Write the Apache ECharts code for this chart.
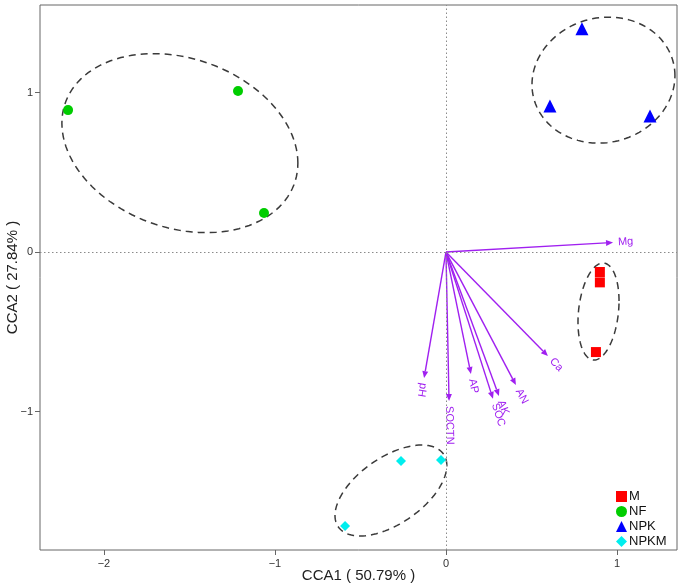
<!DOCTYPE html>
<html>
<head>
<meta charset="utf-8">
<script src="https://cdn.jsdelivr.net/npm/echarts@6/dist/echarts.min.js"></script>
<style>html,body{margin:0;padding:0;background:#fff}#c{width:685px;height:587px}</style>
</head>
<body>
<div id="c"></div>
<script>
// ---- data ----
const groupNames = ['M', 'NF', 'NPK', 'NPKM'];
const pointsM = [[0.90, -0.125], [0.90, -0.19], [0.877, -0.627]];
const pointsNF = [[-2.21, 0.89], [-1.216, 1.01], [-1.064, 0.245]];
const pointsNPK = [[0.795, 1.40], [0.608, 0.915], [1.193, 0.853]];
const pointsNPKM = [[-0.59, -1.718], [-0.263, -1.31], [-0.029, -1.304]];

const envNames = ['Mg', 'Ca', 'AN', 'AK', 'SOC', 'AP', 'SOCTN', 'pH'];
const envX = [0.977, 0.596, 0.409, 0.31, 0.275, 0.146, 0.018, -0.128];
const envY = [0.06, -0.652, -0.834, -0.903, -0.92, -0.765, -0.934, -0.79];

// ellipses: centre (cx, cy) and two conjugate semi-axis vectors (ux, uy), (vx, vy) in data units
const ellipseM = [0.892, -0.373, 0.120, 0.066, 0, 0.297];
const ellipseNF = [-1.556, 0.683, 0.690, -0.125, 0, 0.547];
const ellipseNPK = [0.921, 1.078, 0.418, 0.028, 0, 0.394];
const ellipseNPKM = [-0.322, -1.495, 0.327, 0.157, 0, 0.238];

const xTicks = [-2, -1, 0, 1];
const yTicks = [-1, 0, 1];

// ---- styles ----
const FONT = '"Liberation Sans", Arial, Helvetica, sans-serif';
const colors = { M: '#ff0000', NF: '#00cd00', NPK: '#0000ff', NPKM: '#00eeee' };
const symbols = { M: 'rect', NF: 'circle', NPK: 'triangle', NPKM: 'diamond' };
const sizes = { M: 10, NF: 10, NPK: 13, NPKM: 10 };
const arrowColor = '#a020f0';
const fmt = v => String(v).replace('-', '\u2212');

const chart = echarts.init(document.getElementById('c'), null, { renderer: 'canvas' });

function ellipseItem(params, api) {
  const cx = api.value(0), cy = api.value(1), ux = api.value(2), uy = api.value(3), vx = api.value(4), vy = api.value(5);
  const pts = [];
  const n = 120;
  for (let i = 0; i < n; i++) {
    const t = 2 * Math.PI * i / n;
    pts.push(api.coord([cx + ux * Math.cos(t) + vx * Math.sin(t), cy + uy * Math.cos(t) + vy * Math.sin(t)]));
  }
  return {
    type: 'polygon',
    shape: { points: pts },
    style: { fill: 'none', stroke: '#3a3a3a', lineWidth: 1.5, lineDash: [7, 5] }
  };
}

function arrowItem(params, api) {
  const o = api.coord([0, 0]);
  const t = api.coord([api.value(0), api.value(1)]);
  const dx = t[0] - o[0], dy = t[1] - o[1];
  const L = Math.hypot(dx, dy);
  const ex = dx / L, ey = dy / L;
  const hl = 7, hw = 3;
  const b = [t[0] - ex * hl, t[1] - ey * hl];
  const p1 = [b[0] - ey * hw, b[1] + ex * hw];
  const p2 = [b[0] + ey * hw, b[1] - ex * hw];
  const ang = Math.atan2(-dy, dx);
  const lp = [t[0] + ex * 5, t[1] + ey * 5];
  return {
    type: 'group',
    children: [
      { type: 'line', shape: { x1: o[0], y1: o[1], x2: b[0], y2: b[1] }, style: { stroke: arrowColor, lineWidth: 1.4 } },
      { type: 'polygon', shape: { points: [t, p1, p2] }, style: { fill: arrowColor } },
      {
        type: 'text', x: lp[0], y: lp[1], rotation: ang,
        style: {
          text: envNames[params.dataIndex], fill: arrowColor, font: '11px ' + FONT,
          align: 'left', verticalAlign: 'middle', textAlign: 'left', textVerticalAlign: 'middle'
        }
      }
    ]
  };
}

const pointSets = { M: pointsM, NF: pointsNF, NPK: pointsNPK, NPKM: pointsNPKM };
const ellipseSets = [ellipseM, ellipseNF, ellipseNPK, ellipseNPKM];

const series = [];
// reference lines
series.push({
  type: 'line', data: [], silent: true,
  markLine: {
    silent: true, symbol: 'none', label: { show: false },
    lineStyle: { color: '#8a8a8a', type: [1.5, 2.5], width: 1 },
    animation: false,
    data: [{ xAxis: 0 }, { yAxis: 0 }]
  }
});
series.push({
  type: 'custom', renderItem: ellipseItem, silent: true, clip: false,
  data: ellipseSets, encode: { x: 0, y: 1 }, z: 2
});
series.push({
  type: 'custom', renderItem: arrowItem, silent: true, clip: false,
  data: envX.map((v, i) => [v, envY[i]]), encode: { x: 0, y: 1 }, z: 3
});
groupNames.forEach(g => {
  series.push({
    name: g, type: 'scatter', data: pointSets[g], symbol: symbols[g], symbolSize: sizes[g],
    itemStyle: { color: colors[g], opacity: 1 }, z: 4
  });
});

chart.setOption({
  animation: false,
  backgroundColor: '#fff',
  grid: {
    left: 40, right: 8, top: 5, bottom: 37, show: true, borderColor: '#666', borderWidth: 1,
    backgroundColor: 'transparent', containLabel: false, outerBoundsMode: 'none'
  },
  xAxis: {
    type: 'value', min: -2.374, max: 1.351,
    name: 'CCA1 ( 50.79% )', nameLocation: 'middle', nameGap: 18, nameMoveOverlap: false,
    nameTextStyle: { fontFamily: FONT, fontSize: 15, color: '#222' },
    axisLine: { show: false, onZero: false },
    splitLine: { show: false },
    axisTick: { show: true, length: 5, inside: false, lineStyle: { color: '#666' }, customValues: xTicks },
    axisLabel: { fontFamily: FONT, fontSize: 11, color: '#333', margin: 8, customValues: xTicks, formatter: fmt }
  },
  yAxis: {
    type: 'value', min: -1.868, max: 1.549,
    name: 'CCA2 ( 27.84% )', nameLocation: 'middle', nameGap: 20, nameMoveOverlap: false,
    nameTextStyle: { fontFamily: FONT, fontSize: 15, color: '#222' },
    axisLine: { show: false, onZero: false },
    splitLine: { show: false },
    axisTick: { show: true, length: 5, inside: false, lineStyle: { color: '#666' }, customValues: yTicks },
    axisLabel: { fontFamily: FONT, fontSize: 11, color: '#333', margin: 7, customValues: yTicks, formatter: fmt }
  },
  legend: {
    data: groupNames.map(g => ({ name: g, icon: symbols[g] })),
    orient: 'vertical', left: 611, top: 485,
    itemWidth: 11, itemHeight: 11, itemGap: 2,
    textStyle: { fontFamily: FONT, fontSize: 13, color: '#111', padding: [0, 0, 0, -3] },
    selectedMode: false
  },
  series: series
});
</script>
</body>
</html>
